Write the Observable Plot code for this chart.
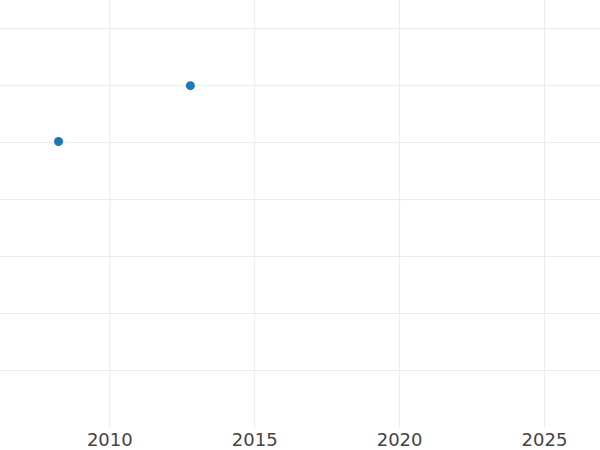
<!DOCTYPE html>
<html>
<head>
<meta charset="utf-8">
<script src="https://cdn.jsdelivr.net/npm/d3@7"></script>
<script src="https://cdn.jsdelivr.net/npm/@observablehq/plot@0.6"></script>
<style>
  html, body { margin: 0; padding: 0; background: #fff; }
  #chart svg { display: block; }
</style>
</head>
<body>
<div id="chart"></div>
<script>
const years = [2008.23, 2012.78];
const values = [5.02, 6];
const xTicks = [2010, 2015, 2020, 2025];
const yTicks = [1, 2, 3, 4, 5, 6, 7];

const data = years.map((x, i) => ({x, y: values[i]}));

const chart = Plot.plot({
  width: 600,
  height: 450,
  marginTop: 0,
  marginLeft: 0,
  marginRight: 0,
  marginBottom: 23,
  style: {fontFamily: "DejaVu Sans", fontSize: "18px", color: "#444", background: "#fff"},
  x: {domain: [2006.228, 2026.932], label: null},
  y: {domain: [0, 7.495], axis: null},
  marks: [
    Plot.gridY(yTicks, {stroke: "#ebebeb", strokeOpacity: 1, strokeWidth: 1}),
    Plot.gridX(xTicks, {stroke: "#ebebeb", strokeOpacity: 1, strokeWidth: 1}),
    Plot.axisX(xTicks, {tickSize: 0, tickPadding: 6, tickFormat: d => String(d), label: null, fill: "#444", fontSize: 18}),
    Plot.dot(data, {x: "x", y: "y", r: 4.5, fill: "#1f77b4", stroke: "none"})
  ]
});
document.getElementById("chart").appendChild(chart);
</script>
</body>
</html>
